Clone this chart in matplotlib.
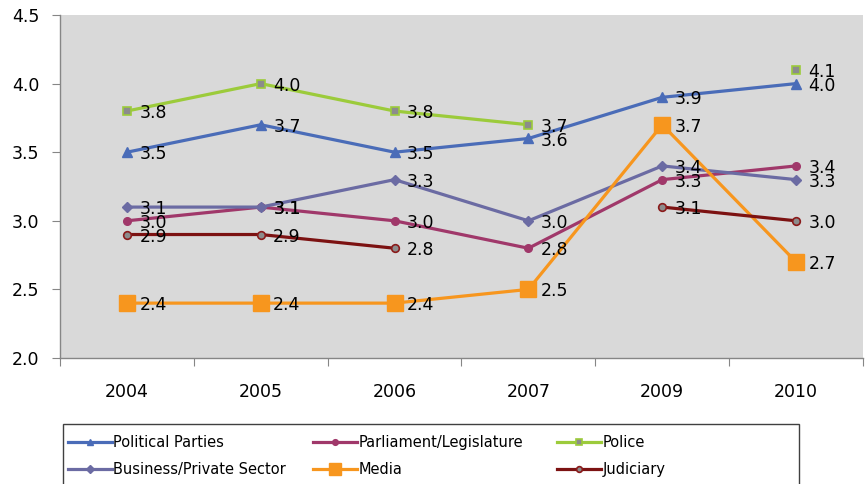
import numpy as np
import matplotlib
matplotlib.use("Agg")
from matplotlib import pyplot as plt
from matplotlib.patches import Rectangle

years = ["2004", "2005", "2006", "2007", "2009", "2010"]
political_parties = [3.5, 3.7, 3.5, 3.6, 3.9, 4.0]
parliament = [3.0, 3.1, 3.0, 2.8, 3.3, 3.4]
police = [3.8, 4.0, 3.8, 3.7, None, 4.1]
business = [3.1, 3.1, 3.3, 3.0, 3.4, 3.3]
media = [2.4, 2.4, 2.4, 2.5, 3.7, 2.7]
judiciary = [2.9, 2.9, 2.8, None, 3.1, 3.0]

y_ticks = [2.0, 2.5, 3.0, 3.5, 4.0, 4.5]


def main():
    fig = plt.figure(figsize=(8.67, 4.84), dpi=100)
    ax = fig.add_axes([60/867, 1-358/484, 803/867, 343/484])
    ax.set_facecolor("#D9D9D9")

    x = np.arange(len(years))

    series = [
        ("Political Parties", political_parties,
         dict(color="#4A6CB8", marker="^", ms=6.5, mfc="#4A6CB8", mec="#4A6CB8")),
        ("Parliament/Legislature", parliament,
         dict(color="#A0386A", marker="o", ms=5.5, mfc="#A0386A", mec="#A0386A")),
        ("Police", police,
         dict(color="#9CCB3B", marker="s", ms=5.5, mfc="#8C8C8C", mec="#9CCB3B", mew=1.2)),
        ("Business/Private Sector", business,
         dict(color="#6B6BA3", marker="D", ms=5, mfc="#6B6BA3", mec="#6B6BA3")),
        ("Media", media,
         dict(color="#F7961E", marker="s", ms=11, mfc="#F7961E", mec="#F7961E")),
        ("Judiciary", judiciary,
         dict(color="#7C1212", marker="o", ms=5.5, mfc="#8C8C8C", mec="#8A1A1A", mew=1.2)),
    ]

    handles = {}
    for name, vals, style in series:
        y = np.array([np.nan if v is None else v for v in vals], dtype=float)
        h, = ax.plot(x, y, lw=2.3, label=name, zorder=3, **style)
        handles[name] = h
        for xi, yi in zip(x, y):
            if np.isnan(yi):
                continue
            ax.annotate(f"{yi:.1f}", (xi, yi), xytext=(9, -1.5),
                        textcoords="offset points", va="center", ha="left",
                        fontsize=12.5, color="black", family="DejaVu Sans",
                        zorder=4)

    ax.set_xlim(-0.5, len(years) - 0.5)
    ax.set_ylim(2.0, 4.5)
    ax.set_yticks(y_ticks)
    ax.set_yticklabels([f"{v:.1f}" for v in y_ticks], fontsize=12.5,
                       family="DejaVu Sans")
    ax.tick_params(axis="y", length=6, pad=9, color="#868686")

    ax.set_xticks(np.arange(-0.5, len(years)), minor=False)
    ax.set_xticklabels([])
    ax.set_xticks(x, minor=True)
    ax.set_xticklabels(years, minor=True, fontsize=12.5, family="DejaVu Sans")
    ax.tick_params(axis="x", which="major", length=6, color="#868686")
    ax.tick_params(axis="x", which="minor", length=0, pad=18)

    for s in ["top", "right"]:
        ax.spines[s].set_visible(False)
    for s in ["left", "bottom"]:
        ax.spines[s].set_color("#868686")
        ax.spines[s].set_linewidth(1.0)

    # legend box, runs off the bottom like the original
    fig.patches.append(Rectangle((63/867, -0.05), (799-63)/867, (1-424/484) + 0.05,
                                 transform=fig.transFigure, fill=False,
                                 edgecolor="#404040", lw=1.0))

    columns = [
        ["Political Parties", "Business/Private Sector"],
        ["Parliament/Legislature", "Media"],
        ["Police", "Judiciary"],
    ]
    col_x = [68, 313, 557]
    for names, cx in zip(columns, col_x):
        fig.legend(handles=[handles[n] for n in names], labels=names,
                   loc="upper left", bbox_to_anchor=(cx/867, 1-435/484),
                   frameon=False, prop={"family": "DejaVu Sans", "size": 10.5},
                   handlelength=3.0, handletextpad=0.1, labelspacing=0.85,
                   borderaxespad=0, borderpad=0, markerscale=0.75)

    fig.savefig("out.png", dpi=100)


if __name__ == '__main__':
    main()
